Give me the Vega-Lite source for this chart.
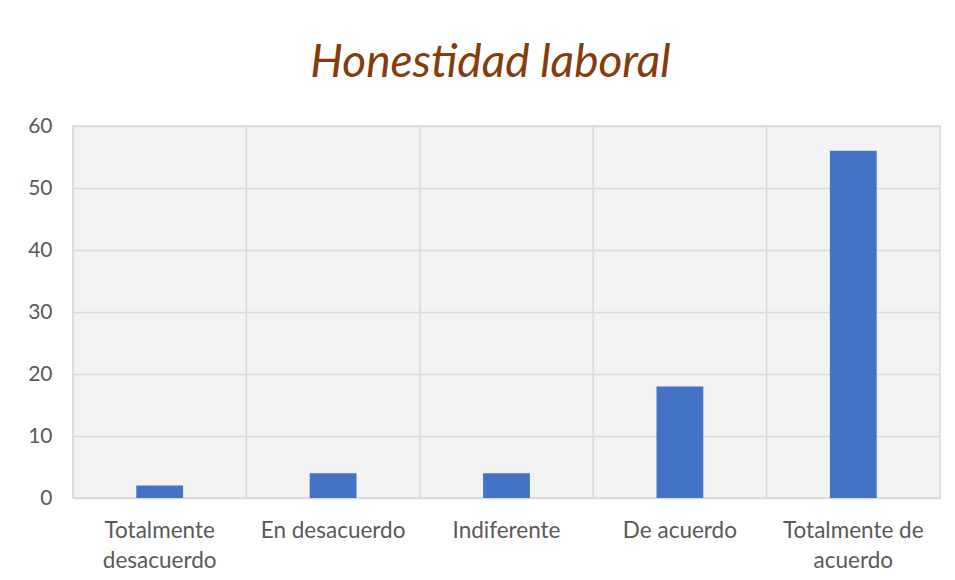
{
  "$schema": "https://vega.github.io/schema/vega-lite/v6.json",
  "width": 867,
  "height": 372,
  "autosize": "none",
  "padding": {"left": 73, "top": 126, "right": 15, "bottom": 82},
  "background": "white",
  "title": {
    "text": "Honestidad laboral",
    "font": "Lato",
    "fontSize": 46,
    "fontStyle": "italic",
    "fontWeight": "normal",
    "color": "#843C0C",
    "anchor": "middle",
    "baseline": "alphabetic",
    "offset": -8,
    "dx": -16
  },
  "config": {
    "view": {"stroke": "#d9d9d9", "strokeWidth": 1.5, "fill": "#f3f3f3"},
    "axisX": {
      "title": null,
      "domain": false,
      "ticks": false,
      "grid": false,
      "labelAngle": 0,
      "labelFont": "Lato",
      "labelFontSize": 22.5,
      "labelColor": "#595959",
      "labelPadding": 39,
      "labelLineHeight": 30,
      "labelBaseline": "alphabetic"
    }
  },
  "data": {
    "values": [
      {"categoria": "Totalmente desacuerdo", "valor": 2},
      {"categoria": "En desacuerdo", "valor": 4},
      {"categoria": "Indiferente", "valor": 4},
      {"categoria": "De acuerdo", "valor": 18},
      {"categoria": "Totalmente de acuerdo", "valor": 56}
    ]
  },
  "layer": [
    {
      "mark": {"type": "rule", "color": "#d9d9d9", "strokeWidth": 1.5},
      "encoding": {
        "x": {"field": "categoria", "type": "nominal", "sort": null, "bandPosition": 0,
              "scale": {"paddingInner": 0, "paddingOuter": 0},
              "axis": {"labelExpr": "datum.value == 'Totalmente desacuerdo' ? ['Totalmente', 'desacuerdo'] : datum.value == 'Totalmente de acuerdo' ? ['Totalmente de', 'acuerdo'] : datum.value"}}
      }
    },
    {
      "mark": {"type": "bar", "color": "#4472C4", "width": {"band": 0.27}},
      "encoding": {
        "x": {
          "field": "categoria",
          "type": "nominal",
          "sort": null,
          "scale": {"paddingInner": 0, "paddingOuter": 0},
          "axis": {"labelExpr": "datum.value == 'Totalmente desacuerdo' ? ['Totalmente', 'desacuerdo'] : datum.value == 'Totalmente de acuerdo' ? ['Totalmente de', 'acuerdo'] : datum.value"}
        },
        "y": {
          "field": "valor",
          "type": "quantitative",
          "scale": {"domain": [0, 60], "nice": false},
          "axis": {
            "title": null,
            "values": [0, 10, 20, 30, 40, 50, 60],
            "domain": false,
            "ticks": false,
            "gridColor": "#d9d9d9",
            "gridWidth": 1.5,
            "labelFont": "Lato",
            "labelFontSize": 21,
            "labelColor": "#595959",
            "labelPadding": 21
          }
        }
      }
    }
  ]
}
